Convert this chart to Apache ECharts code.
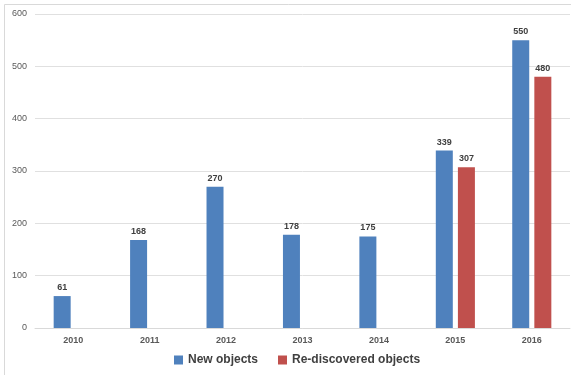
<!DOCTYPE html>
<html>
<head>
<meta charset="utf-8">
<title>New vs re-discovered objects</title>
<script src="https://cdn.jsdelivr.net/npm/echarts@6/dist/echarts.min.js"></script>
<style>
  html, body { margin: 0; padding: 0; background: #fff; }
  #main { width: 571px; height: 375px; }
</style>
</head>
<body>
<div id="main"></div>
<script>
  var years = ['2010', '2011', '2012', '2013', '2014', '2015', '2016'];
  var newObjects = [61, 168, 270, 178, 175, 339, 550];
  var rediscovered = [null, null, null, null, null, 307, 480];
  var yTicks = [0, 100, 200, 300, 400, 500, 600];

  var chart = echarts.init(document.getElementById('main'));
  var labelStyle = {
    show: true,
    position: 'top',
    distance: 4,
    fontSize: 9,
    fontWeight: 'bold',
    color: '#404040',
    fontFamily: 'Liberation Sans'
  };
  chart.setOption({
    animation: false,
    textStyle: { fontFamily: 'Liberation Sans' },
    graphic: [{
      type: 'rect',
      shape: { x: 4.5, y: 4.5, width: 600, height: 400 },
      style: { fill: 'none', stroke: '#d9d9d9', lineWidth: 1 },
      silent: true
    }],
    grid: { left: 35, right: 1, top: 14, bottom: 47 },
    legend: {
      top: 354,
      left: 174,
      padding: 0,
      itemWidth: 9,
      itemHeight: 9,
      itemGap: 20,
      icon: 'rect',
      textStyle: { fontSize: 12, fontWeight: 'bold', color: '#404040' },
      data: ['New objects', 'Re-discovered objects']
    },
    xAxis: {
      type: 'category',
      data: years,
      axisTick: { show: false },
      axisLine: { lineStyle: { color: '#d9d9d9' } },
      axisLabel: { fontSize: 9, fontWeight: 'bold', color: '#595959', margin: 8 }
    },
    yAxis: {
      type: 'value',
      min: yTicks[0],
      max: yTicks[yTicks.length - 1],
      interval: 100,
      axisLine: { show: false },
      axisTick: { show: false },
      splitLine: { lineStyle: { color: '#e0e0e0' } },
      axisLabel: { fontSize: 9, color: '#595959', margin: 8 }
    },
    series: [{
      name: 'New objects',
      type: 'bar',
      data: newObjects,
      barWidth: 17,
      barGap: '30%',
      itemStyle: { color: '#4F81BD' },
      label: labelStyle
    }, {
      name: 'Re-discovered objects',
      type: 'bar',
      data: rediscovered,
      barWidth: 17,
      itemStyle: { color: '#C0504D' },
      label: labelStyle
    }]
  });
</script>
</body>
</html>
